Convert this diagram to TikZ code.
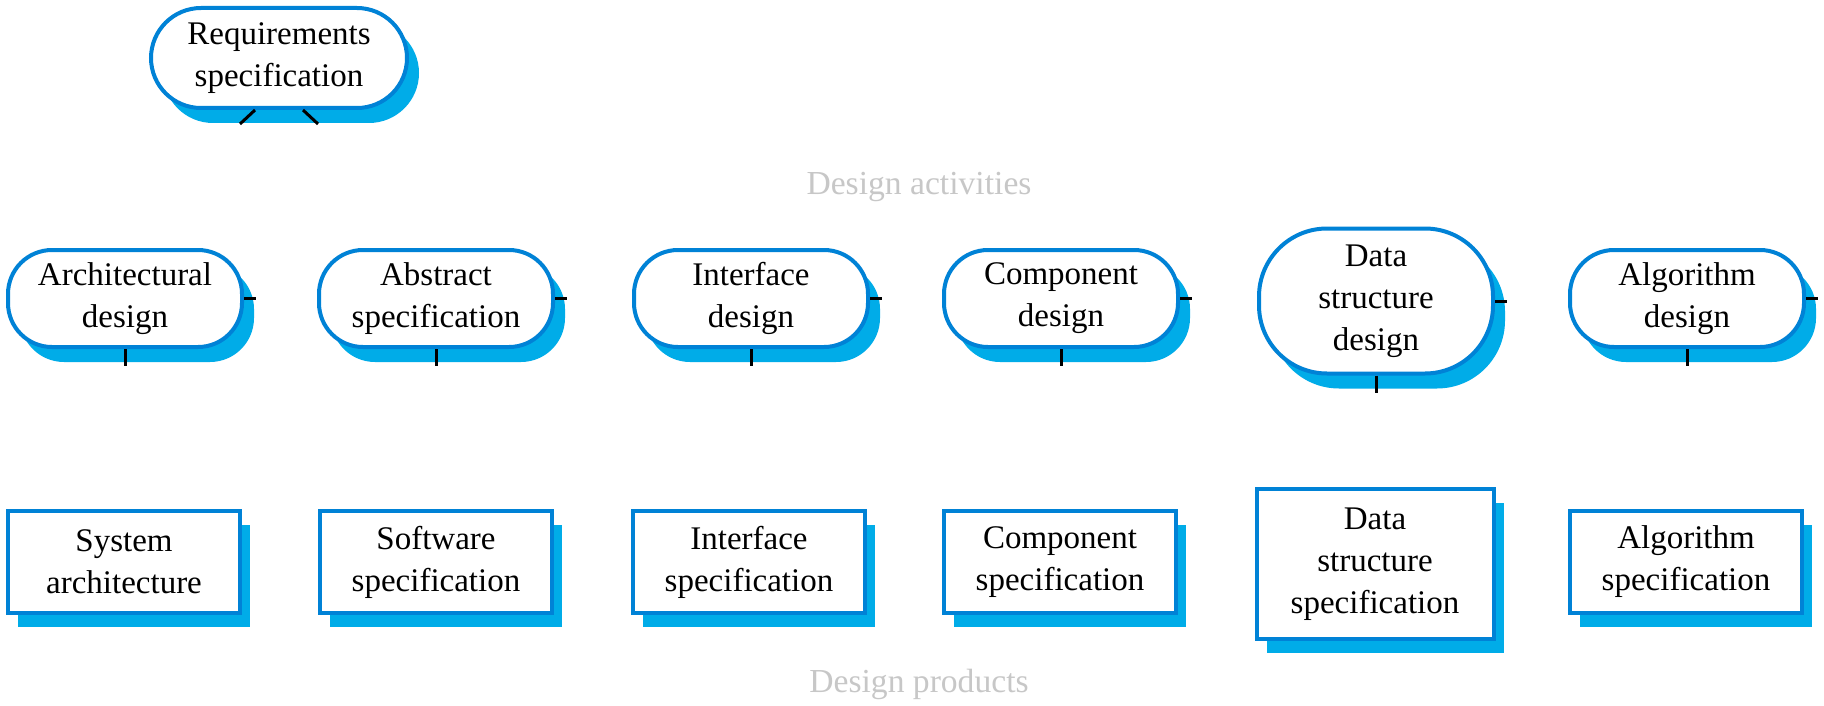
\documentclass[tikz,border=0pt]{standalone}
\usepackage{fontspec}
\setmainfont{Liberation Serif}
\usetikzlibrary{shadows}
\definecolor{bord}{RGB}{0,130,214}
\definecolor{shad}{RGB}{0,172,232}
\tikzset{
 txt/.style={font=\fontsize{16.5pt}{21pt}\selectfont, align=center, text=black},
 activity/.style={txt, draw=bord, line width=2pt, fill=white, rounded corners=22pt,
   minimum width=117pt, minimum height=48.5pt, inner sep=0pt,
   general shadow={fill=shad, shadow xshift=6pt, shadow yshift=-7.5pt}},
 product/.style={txt, draw=bord, line width=2pt, fill=white,
   minimum width=116pt, minimum height=51pt, inner sep=0pt,
   general shadow={fill=shad, shadow xshift=5pt, shadow yshift=-7pt}},
 tick/.style={black, line width=1.5pt},
 faint/.style={font=\fontsize{16.8pt}{20pt}\selectfont, text=black!22}
}
\begin{document}
\begin{tikzpicture}[x=0.5pt,y=-0.5pt]
\fill[white] (0,0) rectangle (1824,706);
\useasboundingbox (0,0) rectangle (1824,706);

\node[activity, minimum width=128pt, minimum height=50pt, rounded corners=25pt] (req) at (279,58) {Requirements\\specification};

\node[faint] (lact) at (919,187) {Design activities};
\node[faint] (lprod) at (919,684) {Design products};

\node[activity] (a1) at (125,298.5) {Architectural\\design};
\node[activity] (a2) at (436,298.5) {Abstract\\specification};
\node[activity] (a3) at (751,298.5) {Interface\\design};
\node[activity] (a4) at (1061,298.5) {Component\\design};
\node[activity, minimum height=72.5pt, rounded corners=34pt] (a5) at (1376,301) {Data\\structure\\design};
\node[activity] (a6) at (1687,298.5) {Algorithm\\design};

\node[product] (p1) at (124,562) {System\\architecture};
\node[product] (p2) at (436,562) {Software\\specification};
\node[product] (p3) at (749,562) {Interface\\specification};
\node[product] (p4) at (1060,562) {Component\\specification};
\node[product, minimum width=118.5pt, minimum height=75pt] (p5) at (1375,564) {Data\\structure\\specification};
\node[product] (p6) at (1686,562) {Algorithm\\specification};

\draw[tick] ([xshift=-12pt]req.south) -- ++(-7.5pt,-7pt);
\draw[tick] ([xshift=12pt]req.south) -- ++(7.5pt,-7pt);
\foreach \n in {a1,a2,a3,a4,a5,a6}{
  \draw[tick] (\n.south) -- ++(0,-8.5pt);
  \draw[tick] (\n.east) -- ++(6pt,0);
}
\end{tikzpicture}
\end{document}
